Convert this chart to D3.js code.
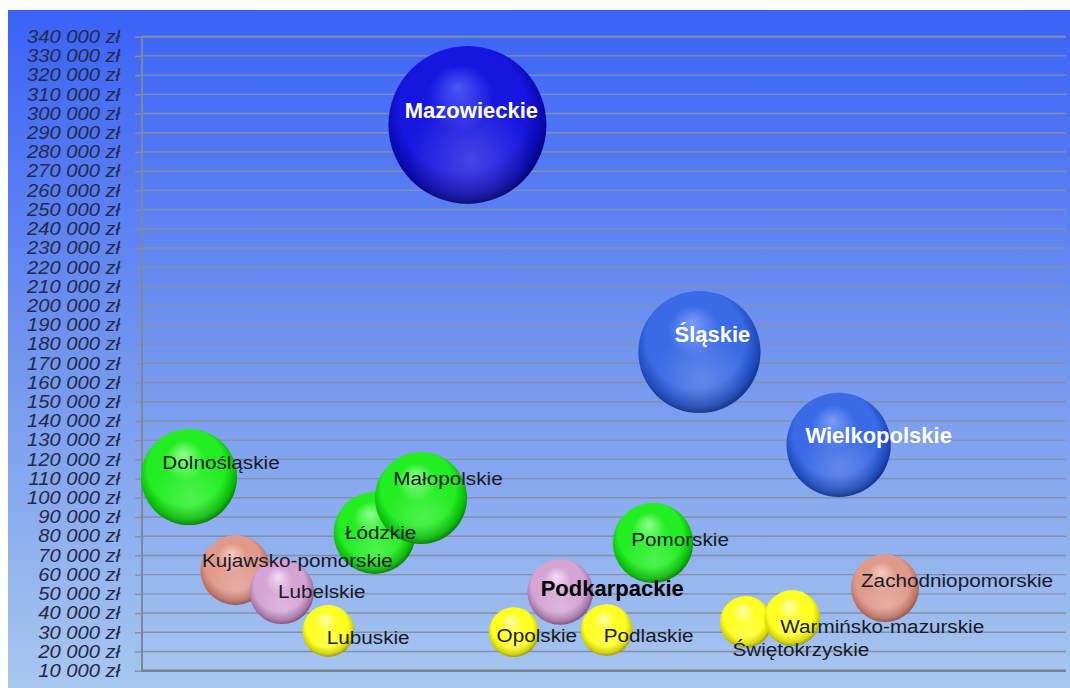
<!DOCTYPE html>
<html lang="pl">
<head>
    <meta charset="UTF-8">
    <title>Województwa</title>
    <script src="https://cdnjs.cloudflare.com/ajax/libs/d3/7.8.5/d3.min.js"></script>
    <style>
        body {
            margin: 0;
            background: #fff;
        }

        svg {
            display: block;
            font-family: "Liberation Sans", Arial, sans-serif;
        }

        .tick text {
            font-style: italic;
            font-size: 18px;
            fill: #232a48;
        }
    </style>
</head>
<body>

<svg id="chart" width="1070" height="688"></svg>

<script>
    // data
    let regions = ["Dolnośląskie", "Kujawsko-pomorskie", "Lubelskie", "Lubuskie", "Łódzkie", "Małopolskie",
        "Mazowieckie", "Opolskie", "Podkarpackie", "Podlaskie", "Pomorskie", "Śląskie", "Świętokrzyskie",
        "Warmińsko-mazurskie", "Wielkopolskie", "Zachodniopomorskie"];

    let values = [110800, 62400, 51000, 30700, 81700, 99900, 294100, 30100, 51000, 31200, 76500, 175900,
        35400, 37400, 127500, 53000];

    let sizes = [100, 53, 45, 29, 73, 92, 271, 27, 47, 29, 70, 162, 29, 34, 118, 50];

    let groups = ["green", "salmon", "lilac", "yellow", "green", "green", "navy", "yellow", "lilac", "yellow",
        "green", "blue", "yellow", "yellow", "blue", "salmon"];

    let yTicks = [10000, 20000, 30000, 40000, 50000, 60000, 70000, 80000, 90000, 100000, 110000, 120000,
        130000, 140000, 150000, 160000, 170000, 180000, 190000, 200000, 210000, 220000, 230000, 240000,
        250000, 260000, 270000, 280000, 290000, 300000, 310000, 320000, 330000, 340000];

    // sphere colours: highlight, base, dark, darkest
    let palette = {
        green: ["#90ff90", "#22ee22", "#08b808", "#007000"],
        yellow: ["#ffffb0", "#ffff22", "#d0d000", "#8a8a00"],
        salmon: ["#f6cac2", "#e09a8c", "#b87062", "#864a40"],
        lilac: ["#f4dcf4", "#d4a4d4", "#a272a2", "#6e466e"],
        blue: ["#7a9cfa", "#3a6ae6", "#1c48b6", "#0c2a7e"],
        navy: ["#4a58f4", "#1616e0", "#0808a8", "#000066"]
    };

    // label nudges in px from the bubble centre (dx, dy of baseline)
    let labelNudge = [[32, -8], [62, -3], [40, 6], [40, 13], [6, 6], [27, -13], [4, -7], [23, 10], [52, 4],
        [42, 12], [27, 3], [13, -10], [55, 34], [90, 15], [40, -2], [72, -1]];

    let svg = d3.select("#chart");
    let defs = svg.append("defs");

    let bg = defs.append("linearGradient").attr("id", "bg").attr("x1", 0).attr("y1", 0).attr("x2", 0).attr("y2", 1);
    bg.append("stop").attr("offset", "0%").attr("stop-color", "#3a62f8");
    bg.append("stop").attr("offset", "50%").attr("stop-color", "#7194ef");
    bg.append("stop").attr("offset", "100%").attr("stop-color", "#a8c7ef");

    Object.keys(palette).forEach(function (key) {
        let c = palette[key];
        let g = defs.append("radialGradient").attr("id", "sph-" + key)
            .attr("cx", "48%").attr("cy", "45%").attr("r", "56%")
            .attr("fx", "44%").attr("fy", "26%");
        g.append("stop").attr("offset", "0%").attr("stop-color", c[0]);
        g.append("stop").attr("offset", "38%").attr("stop-color", c[1]);
        g.append("stop").attr("offset", "72%").attr("stop-color", c[1]);
        g.append("stop").attr("offset", "91%").attr("stop-color", c[2]);
        g.append("stop").attr("offset", "100%").attr("stop-color", c[3]);
    });

    let glow = defs.append("radialGradient").attr("id", "glow").attr("cx", "52%").attr("cy", "72%").attr("r", "40%");
    glow.append("stop").attr("offset", "0%").attr("stop-color", "#fff").attr("stop-opacity", 0.2);
    glow.append("stop").attr("offset", "100%").attr("stop-color", "#fff").attr("stop-opacity", 0);

    svg.append("rect").attr("x", 8).attr("y", 10).attr("width", 1062).attr("height", 678).attr("fill", "url(#bg)");

    let x = d3.scaleLinear().domain([0, 19.9]).range([142.6, 1066]);
    let y = d3.scaleLinear().domain([10000, 340000]).range([670.7, 36.7]);
    let r = d3.scaleSqrt().domain([0, 271]).range([0, 79]);

    // gridlines
    svg.append("g")
        .selectAll("line")
        .data(yTicks.slice(1))
        .enter()
        .append("line")
        .attr("x1", 142).attr("x2", 1066)
        .attr("y1", d => y(d)).attr("y2", d => y(d))
        .attr("stroke", "#8590a6")
        .attr("stroke-width", d => d === 340000 ? 2 : 1.4);

    let fmt = d3.format(",");
    let yAxis = d3.axisLeft(y)
        .tickValues(yTicks)
        .tickSize(7)
        .tickPadding(0)
        .tickFormat(d => fmt(d).replace(/,/g, " ") + " zł");

    let axisG = svg.append("g").attr("transform", "translate(142,0)").call(yAxis);
    axisG.select(".domain").remove();
    axisG.selectAll(".tick line").attr("stroke", "#8590a6").attr("stroke-width", 1.4);
    axisG.selectAll(".tick text")
        .attr("x", -19.6)
        .attr("transform", "scale(1.12,1)");

    // axis lines
    svg.append("line").attr("x1", 142).attr("x2", 142).attr("y1", 36).attr("y2", 672)
        .attr("stroke", "#7f8896").attr("stroke-width", 2);
    svg.append("line").attr("x1", 141).attr("x2", 1066).attr("y1", 670.7).attr("y2", 670.7)
        .attr("stroke", "#7a8290").attr("stroke-width", 2.5);

    let idx = d3.range(regions.length);

    let bubbles = svg.append("g")
        .selectAll("g")
        .data(idx)
        .enter()
        .append("g")
        .attr("transform", i => "translate(" + x(i + 1) + "," + y(values[i]) + ")");

    bubbles.append("circle")
        .attr("r", i => r(sizes[i]))
        .attr("fill", i => "url(#sph-" + groups[i] + ")");

    bubbles.append("circle")
        .attr("r", i => r(sizes[i]))
        .attr("fill", "url(#glow)");

    function isBold(i) {
        return groups[i] === "blue" || groups[i] === "navy" || regions[i] === "Podkarpackie";
    }

    // labels go on top of every bubble
    svg.append("g")
        .selectAll("text")
        .data(idx)
        .enter()
        .append("text")
        .attr("transform", i => "translate(" + (x(i + 1) + labelNudge[i][0]) + "," + (y(values[i]) + labelNudge[i][1]) + ")"
            + (isBold(i) ? "" : " scale(1.09,1)"))
        .attr("text-anchor", "middle")
        .style("font-size", i => isBold(i) ? "22px" : "19px")
        .style("font-weight", i => isBold(i) ? "bold" : "normal")
        .attr("fill", i => (groups[i] === "blue" || groups[i] === "navy") ? "#fff" : (regions[i] === "Podkarpackie" ? "#000" : "#1a1a26"))
        .text(i => regions[i]);
</script>

</body>
</html>
